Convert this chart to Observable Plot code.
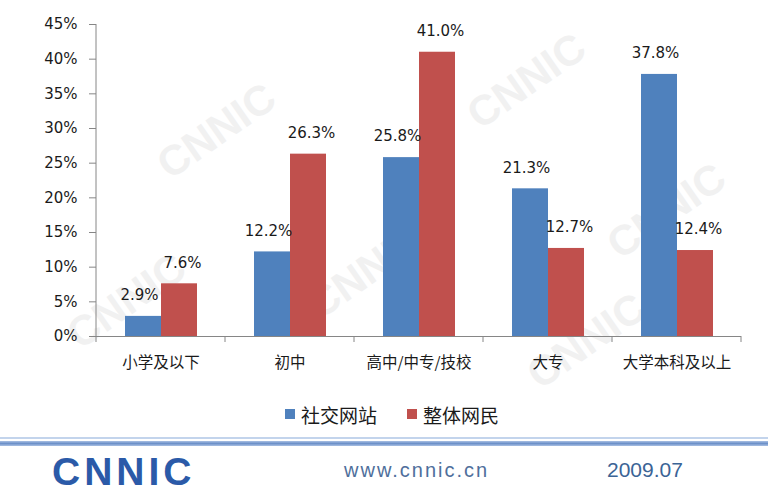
<!DOCTYPE html>
<html>
<head>
<meta charset="utf-8">
<script src="https://cdn.jsdelivr.net/npm/d3@7"></script>
<script src="https://cdn.jsdelivr.net/npm/@observablehq/plot@0.6"></script>
<style>
  html, body { margin: 0; padding: 0; background: #fff; }
  body { width: 768px; height: 493px; overflow: hidden; position: relative; font-family: "DejaVu Sans", sans-serif; }
  #wm { position: absolute; left: 0; top: 0; width: 768px; height: 493px; z-index: 0; overflow: hidden; }
  #wm span { position: absolute; font-family: "Liberation Sans", sans-serif; font-weight: bold; font-size: 42px; line-height: 42px; color: #f1f1f1; transform: rotate(-35deg); white-space: nowrap; }
  #chart { position: relative; z-index: 1; height: 385px; }
  #legend { position: relative; z-index: 1; height: 46px; padding-top: 6px; display: flex; align-items: center; padding-left: 285px; font-family: "Noto Sans CJK SC", sans-serif; font-size: 19px; color: #1a1a1a; }
  #legend .item { display: flex; align-items: center; }
  #legend .sw { width: 10px; height: 10px; margin-right: 6px; }
  #footer { position: relative; z-index: 1; height: 56px; }
  #footer .l1 { position: absolute; left: 0; top: 0; width: 768px; height: 2px; background: #c3d4ec; }
  #footer .l2 { position: absolute; left: 0; top: 4px; width: 768px; height: 5px; background: linear-gradient(#a9c0e3, #6d91c9, #a9c0e3); }
  #footer .logo { position: absolute; left: 52px; top: 16px; font-family: "Liberation Sans", sans-serif; font-weight: 900; font-size: 39px; line-height: 37px; color: #2b5aa8; letter-spacing: 4px; }
  #footer .url { position: absolute; left: 344px; top: 21px; font-family: "Liberation Sans", sans-serif; font-size: 20px; line-height: 24px; color: #4f6f9c; letter-spacing: 2px; }
  #footer .date { position: absolute; left: 607px; top: 21px; font-family: "Liberation Sans", sans-serif; font-size: 21px; line-height: 24px; color: #3b6496; }
</style>
</head>
<body>
<div id="wm">
  <span style="left:150px;top:110px">CNNIC</span>
  <span style="left:460px;top:60px">CNNIC</span>
  <span style="left:600px;top:190px">CNNIC</span>
  <span style="left:60px;top:280px">CNNIC</span>
  <span style="left:300px;top:250px">CNNIC</span>
  <span style="left:520px;top:320px">CNNIC</span>
</div>
<div id="chart"></div>
<div id="legend"></div>
<div id="footer">
  <div class="l1"></div>
  <div class="l2"></div>
  <div class="logo">CNNIC</div>
  <div class="url">www.cnnic.cn</div>
  <div class="date">2009.07</div>
</div>
<script>
const categories = ["小学及以下", "初中", "高中/中专/技校", "大专", "大学本科及以上"];
const seriesNames = ["社交网站", "整体网民"];
const socialValues = [2.9, 12.2, 25.8, 21.3, 37.8];
const overallValues = [7.6, 26.3, 41.0, 12.7, 12.4];
const yTicks = [0, 5, 10, 15, 20, 25, 30, 35, 40, 45];
const colors = ["#4F81BD", "#C0504D"];

const rows = [];
categories.forEach((c, i) => {
  rows.push({cat: c, series: seriesNames[0], value: socialValues[i]});
  rows.push({cat: c, series: seriesNames[1], value: overallValues[i]});
});
const fmt = d => d.value.toFixed(1) + "%";

const plot = Plot.plot({
  width: 768,
  height: 385,
  marginLeft: 94,
  marginRight: 26,
  marginTop: 24,
  marginBottom: 49,
  style: {background: "transparent", fontFamily: "DejaVu Sans, sans-serif", fontSize: "15px", color: "#1a1a1a"},
  fx: {domain: categories, paddingInner: 0, paddingOuter: 0, label: null},
  x: {domain: seriesNames, paddingInner: 0, paddingOuter: 0.77, axis: null},
  y: {domain: [0, 45], label: null},
  color: {domain: seriesNames, range: colors},
  marks: [
    Plot.axisY({ticks: yTicks, tickFormat: d => d + "%", tickSize: 7, tickPadding: 12, stroke: "#868686", fill: "#1a1a1a", fontSize: 15, label: null}),
    Plot.axisFx({anchor: "bottom", tickSize: 0, tickPadding: 20, fontFamily: "Noto Sans CJK SC, sans-serif", fontSize: 15.5, fill: "#1a1a1a", label: null}),
    Plot.barY(rows, {fx: "cat", x: "series", y: "value", fill: "series"}),
    Plot.ruleY([0], {stroke: "#868686"}),
    Plot.text(rows.filter(d => d.series === seriesNames[0]), {fx: "cat", x: "series", y: "value", text: fmt, dy: -21, dx: -4, fontSize: 15, fill: "#1a1a1a"}),
    Plot.text(rows.filter(d => d.series === seriesNames[1]), {fx: "cat", x: "series", y: "value", text: fmt, dy: -21, dx: 3, fontSize: 15, fill: "#1a1a1a"})
  ]
});
document.getElementById("chart").appendChild(plot);

// category boundary ticks and y axis line, from Plot's own scales
const fxs = plot.scale("fx");
const ys = plot.scale("y");
const y0 = ys.apply(0);
const bounds = categories.map(c => fxs.apply(c)).concat([fxs.apply(categories[categories.length - 1]) + fxs.bandwidth]);
const svg = d3.select(plot);
const g = svg.append("g").attr("stroke", "#868686");
g.selectAll("line.b").data(bounds).join("line")
  .attr("x1", d => d).attr("x2", d => d)
  .attr("y1", y0).attr("y2", y0 + 6);
g.append("line")
  .attr("x1", bounds[0]).attr("x2", bounds[0])
  .attr("y1", ys.apply(45)).attr("y2", y0);

// legend
const legend = d3.select("#legend");
seriesNames.forEach((s, i) => {
  const it = legend.append("div").attr("class", "item").style("margin-right", i === 0 ? "30px" : "0");
  it.append("div").attr("class", "sw").style("background", colors[i]);
  it.append("span").text(s);
});
</script>
</body>
</html>
